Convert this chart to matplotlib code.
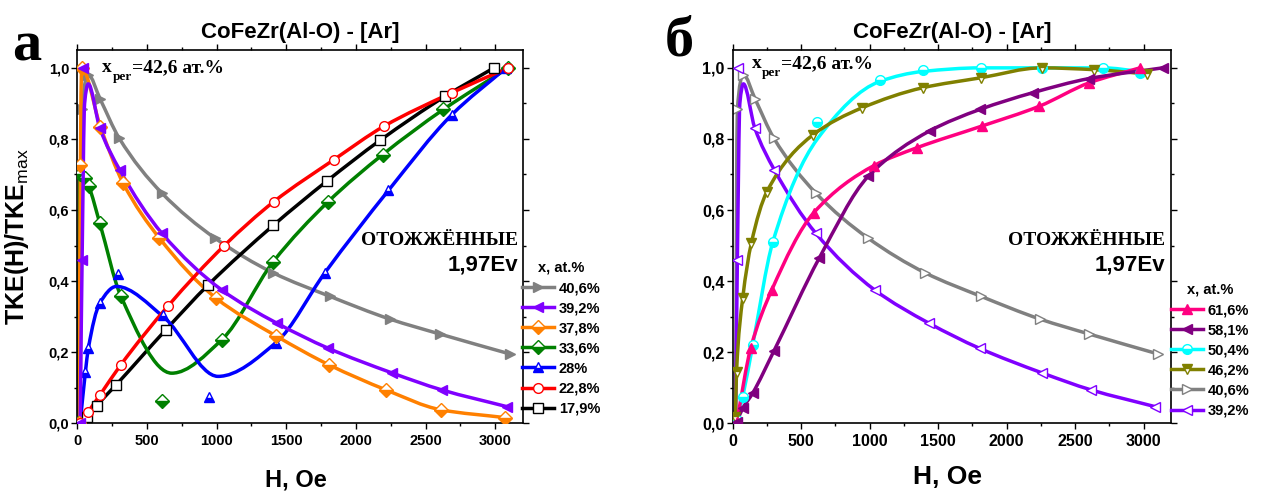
import numpy as np
import matplotlib
matplotlib.use("Agg")
import matplotlib.pyplot as plt
from matplotlib.path import Path
from matplotlib.patches import PathPatch
from matplotlib.lines import Line2D
from matplotlib.ticker import MultipleLocator, FuncFormatter

plt.rcParams["font.family"] = ["Liberation Sans", "DejaVu Sans"]
plt.rcParams["mathtext.fontset"] = "custom"
plt.rcParams["mathtext.rm"] = "Liberation Sans"
plt.rcParams["mathtext.bf"] = "Liberation Sans:bold"

# ---------------- data: H (Oe) and TKE(H)/TKEmax ----------------
# panel a
H_406 = [20, 34, 77, 165, 299, 606, 988, 1407, 1814, 2245, 2604, 3106]
T_406 = [0.00, 0.883, 0.981, 0.911, 0.803, 0.648, 0.521, 0.423, 0.357, 0.293, 0.251, 0.195]

H_392 = [20, 34, 41, 161, 304, 606, 1037, 1431, 1802, 2257, 2616, 3082]
T_392 = [0.00, 0.46, 1.00, 0.831, 0.713, 0.535, 0.375, 0.282, 0.211, 0.142, 0.094, 0.047]
# smoothed trend for 39,2 %
Hc_392 = [20, 34, 52, 78, 161, 304, 606, 1037, 1431, 1802, 2257, 2616, 3082]
Tc_392 = [0.00, 0.46, 0.90, 0.955, 0.831, 0.713, 0.535, 0.375, 0.282, 0.211, 0.142, 0.094, 0.047]

H_378 = [12, 22, 30, 165, 328, 589, 996, 1426, 1809, 2216, 2609, 3070]
T_378 = [0.00, 0.728, 1.00, 0.835, 0.676, 0.521, 0.352, 0.246, 0.164, 0.094, 0.038, 0.016]

H_336 = [8, 17, 53, 82, 161, 311, 606, 1037, 1407, 1802, 2192, 2628, 3094]
T_336 = [0.00, 0.70, 0.69, 0.667, 0.563, 0.359, 0.063, 0.235, 0.455, 0.624, 0.756, 0.883, 1.00]
Hc_336 = [8, 17, 53, 82, 161, 311, 678, 1037, 1407, 1802, 2192, 2628, 3094]
Tc_336 = [0.00, 0.70, 0.69, 0.667, 0.563, 0.359, 0.141, 0.235, 0.455, 0.624, 0.756, 0.883, 1.00]

H_280 = [20, 58, 79, 161, 290, 617, 945, 1426, 1778, 2233, 2688, 3078]
T_280 = [0.00, 0.145, 0.211, 0.338, 0.42, 0.305, 0.075, 0.227, 0.424, 0.655, 0.868, 1.00]
Hc_280 = [20, 58, 79, 161, 280, 617, 1010, 1426, 1778, 2233, 2688, 3078]
Tc_280 = [0.00, 0.145, 0.211, 0.338, 0.385, 0.30, 0.132, 0.227, 0.424, 0.655, 0.868, 1.00]

H_228 = [20, 79, 163, 311, 651, 1055, 1412, 1843, 2202, 2688, 3094]
T_228 = [0.00, 0.033, 0.08, 0.164, 0.33, 0.50, 0.624, 0.742, 0.836, 0.93, 1.00]

H_179 = [20, 72, 139, 278, 635, 941, 1407, 1790, 2173, 2640, 2991]
T_179 = [0.00, 0.019, 0.05, 0.108, 0.263, 0.39, 0.557, 0.681, 0.796, 0.92, 1.00]

# panel б
H_616 = [30, 131, 285, 593, 1031, 1343, 1817, 2238, 2603, 2973]
T_616 = [0.005, 0.211, 0.375, 0.593, 0.725, 0.775, 0.836, 0.892, 0.958, 1.00]

H_581 = [30, 73, 146, 299, 632, 990, 1440, 1805, 2190, 2603, 3139]
T_581 = [0.005, 0.042, 0.085, 0.202, 0.465, 0.695, 0.823, 0.883, 0.930, 0.97, 1.00]

H_504 = [30, 73, 146, 292, 618, 1075, 1391, 1810, 2255, 2705, 2973]
T_504 = [0.01, 0.075, 0.22, 0.509, 0.847, 0.967, 0.993, 1.0, 1.0, 1.0, 0.986]
Hc_504 = [30, 73, 146, 292, 618, 1075, 1391, 1810, 2255, 2705, 2973]
Tc_504 = [0.01, 0.075, 0.22, 0.509, 0.80, 0.962, 0.99, 1.0, 1.0, 1.0, 0.99]

H_462 = [20, 28, 73, 136, 250, 588, 941, 1387, 1810, 2255, 2637, 3022]
T_462 = [0.019, 0.145, 0.352, 0.507, 0.652, 0.812, 0.887, 0.944, 0.972, 1.00, 0.995, 0.983]

labels_a = ["40,6%", "39,2%", "37,8%", "33,6%", "28%", "22,8%", "17,9%"]
labels_b = ["61,6%", "58,1%", "50,4%", "46,2%", "40,6%", "39,2%"]


def pchip_slopes(x, y):
    x = np.asarray(x, float)
    y = np.asarray(y, float)
    h = np.diff(x)
    delta = np.diff(y) / h
    d = np.zeros(len(x))
    for k in range(1, len(x) - 1):
        if delta[k - 1] * delta[k] > 0:
            w1 = 2 * h[k] + h[k - 1]
            w2 = h[k] + 2 * h[k - 1]
            d[k] = (w1 + w2) / (w1 / delta[k - 1] + w2 / delta[k])
    d[0] = delta[0]
    d[-1] = delta[-1]
    return d


def smooth_curve(ax, x, y, color, z):
    """Monotone cubic through the nodes, drawn as Bezier segments in data space."""
    d = pchip_slopes(x, y)
    verts = [(x[0], y[0])]
    codes = [Path.MOVETO]
    for i in range(len(x) - 1):
        h = x[i + 1] - x[i]
        verts += [(x[i] + h / 3, y[i] + d[i] * h / 3),
                  (x[i + 1] - h / 3, y[i + 1] - d[i + 1] * h / 3),
                  (x[i + 1], y[i + 1])]
        codes += [Path.CURVE4] * 3
    ax.add_patch(PathPatch(Path(verts, codes), facecolor="none", edgecolor=color,
                           lw=2.5, joinstyle="round", capstyle="round", zorder=z))


def marker_style(color, marker, fill):
    st = dict(marker=marker, markersize=7, markeredgecolor=color, markeredgewidth=1.0)
    if fill == "full":
        st.update(markerfacecolor=color)
    elif fill == "open":
        st.update(markerfacecolor="white")
    else:
        st.update(fillstyle=fill, markerfacecolor=color, markerfacecoloralt="white")
    return st


def draw_series(ax, H, T, Hc, Tc, color, marker, fill, z):
    smooth_curve(ax, np.asarray(Hc, float), np.asarray(Tc, float), color, z)
    ax.plot(H, T, ls="none", zorder=z + 0.5, **marker_style(color, marker, fill))
    return Line2D([], [], color=color, lw=2.5, **marker_style(color, marker, fill))


def style_axes(ax, tick_size):
    ax.set_xlim(0, 3200)
    ax.set_ylim(0, 1.05)
    ax.xaxis.set_major_locator(MultipleLocator(500))
    ax.xaxis.set_minor_locator(MultipleLocator(250))
    ax.yaxis.set_major_locator(MultipleLocator(0.2))
    ax.yaxis.set_minor_locator(MultipleLocator(0.1))
    ax.yaxis.set_major_formatter(FuncFormatter(lambda v, p: f"{v:.1f}".replace(".", ",")))
    ax.tick_params(which="both", width=1.0)
    ax.tick_params(which="major", length=4)
    ax.tick_params(which="minor", length=2.5)
    ax.tick_params(axis="x", which="both", top=True, direction="in")
    ax.tick_params(axis="y", which="both", right=True, direction="in")
    ax.tick_params(axis="x", which="both", bottom=True, direction="out", pad=4)
    ax.tick_params(axis="y", which="both", left=True, direction="out", pad=2)
    ax.tick_params(labelsize=tick_size)
    for lab in ax.get_xticklabels() + ax.get_yticklabels():
        lab.set_fontweight("bold")
    for sp in ax.spines.values():
        sp.set_linewidth(1.2)


def x_per_note(ax, x0, y0):
    serif = dict(fontfamily="Liberation Serif", fontweight="bold")
    t1 = ax.text(x0, y0, "x", transform=ax.transAxes, fontsize=14, va="baseline", **serif)
    t2 = ax.annotate("per", xy=(1, 0), xycoords=t1, xytext=(0.5, -3), textcoords="offset points",
                     fontsize=9.5, va="baseline", ha="left", **serif)
    ax.annotate("=42,6 ат.%", xy=(1, 0), xycoords=(t2, t1), fontsize=14,
                va="bottom", ha="left", **serif)


def annealed_note(ax, xr):
    ax.text(xr, 0.489, "ОТОЖЖЁННЫЕ", transform=ax.transAxes, ha="right", va="center",
            fontsize=14, fontfamily="Liberation Serif", fontweight="bold")
    ax.text(xr, 0.424, "1,97Ev", transform=ax.transAxes, ha="right", va="center",
            fontsize=16, fontweight="bold")


fig = plt.figure(figsize=(12.62, 4.93), dpi=100)
ax1 = fig.add_axes([0.0613, 0.1414, 0.3532, 0.757])
ax2 = fig.add_axes([0.5806, 0.1414, 0.3473, 0.757])

# ---------------- panel a ----------------
handles_a = [
    draw_series(ax1, H_406, T_406, H_406, T_406, "#808080", ">", "full", 2),
    draw_series(ax1, H_392, T_392, Hc_392, Tc_392, "#8000FF", "<", "full", 3),
    draw_series(ax1, H_378, T_378, H_378, T_378, "#FF8000", "D", "bottom", 2.5),
    draw_series(ax1, H_336, T_336, Hc_336, Tc_336, "#008000", "D", "bottom", 2.2),
    draw_series(ax1, H_280, T_280, Hc_280, Tc_280, "#0000FF", "^", "bottom", 2.4),
    draw_series(ax1, H_228, T_228, H_228, T_228, "#FF0000", "o", "open", 2.6),
    draw_series(ax1, H_179, T_179, H_179, T_179, "#000000", "s", "open", 2.1),
]
style_axes(ax1, 10.5)
ax1.text(0.5, 1.048, "CoFeZr(Al-O) - [Ar]", transform=ax1.transAxes, ha="center",
         va="center", fontsize=16, fontweight="bold")
ax1.set_xlabel("H, Oe", fontsize=17, fontweight="bold")
ax1.xaxis.set_label_coords(0.49, -0.12)
ax1.set_ylabel(r"$\mathbf{TKE(H)/TKE}_{\mathrm{max}}$", fontsize=18)
ax1.yaxis.set_label_coords(-0.104, 0.5)
x_per_note(ax1, 0.055, 0.941)
annealed_note(ax1, 0.989)
ax1.legend(handles_a, labels_a, title="x, at.%", loc="upper left",
           bbox_to_anchor=(0.998, 0.435), frameon=False, borderpad=0, borderaxespad=0,
           handlelength=2.2, handletextpad=0.3, labelspacing=0.42,
           prop=dict(size=10.5, weight="bold"),
           title_fontproperties=dict(size=10.5, weight="bold"))

# ---------------- panel б ----------------
handles_b = [
    draw_series(ax2, H_616, T_616, H_616, T_616, "#FF0080", "^", "full", 2.5),
    draw_series(ax2, H_581, T_581, H_581, T_581, "#800080", "<", "full", 2.6),
    draw_series(ax2, H_504, T_504, Hc_504, Tc_504, "#00FFFF", "o", "bottom", 2.2),
    draw_series(ax2, H_462, T_462, H_462, T_462, "#808000", "v", "top", 2.4),
    draw_series(ax2, H_406, T_406, H_406, T_406, "#808080", ">", "open", 2),
    draw_series(ax2, H_392, T_392, Hc_392, Tc_392, "#8000FF", "<", "open", 2.1),
]
style_axes(ax2, 11.5)
ax2.text(0.5, 1.048, "CoFeZr(Al-O) - [Ar]", transform=ax2.transAxes, ha="center",
         va="center", fontsize=16, fontweight="bold")
ax2.set_xlabel("H, Oe", fontsize=19, fontweight="bold")
ax2.xaxis.set_label_coords(0.49, -0.113)
x_per_note(ax2, 0.043, 0.952)
annealed_note(ax2, 0.986)
ax2.legend(handles_b, labels_b, title="x, at.%", loc="upper left",
           bbox_to_anchor=(1.0, 0.376), frameon=False, borderpad=0, borderaxespad=0,
           handlelength=2.2, handletextpad=0.3, labelspacing=0.42,
           prop=dict(size=10.5, weight="bold"),
           title_fontproperties=dict(size=10.5, weight="bold"))

# panel letters
fig.text(12 / 1262, 0.878, "а", fontsize=42, fontfamily="Liberation Serif",
         fontweight="bold", va="baseline", ha="left")
fig.text(665 / 1262, 0.888, "б", fontsize=42, fontfamily="Liberation Serif",
         fontweight="bold", va="baseline", ha="left")

fig.savefig("out.png", dpi=100)
